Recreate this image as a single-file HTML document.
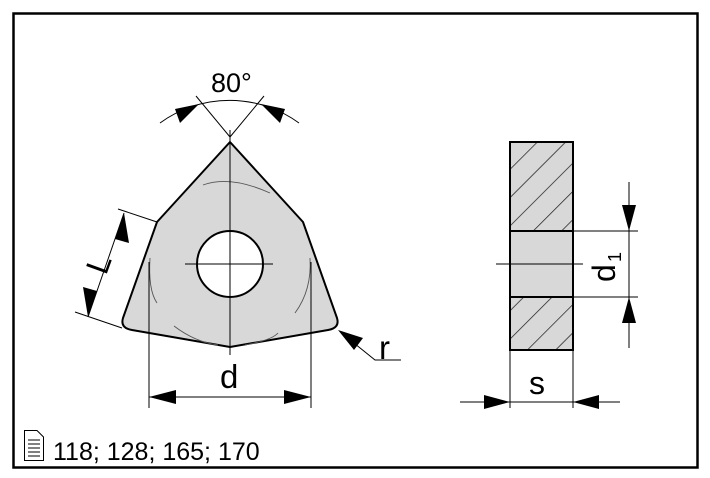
<!DOCTYPE html>
<html><head><style>
html,body{margin:0;padding:0;background:#fff;}
svg{display:block;}
text{font-family:"Liberation Sans",Arial,sans-serif;fill:#000;}
</style></head><body>
<svg width="710" height="478" viewBox="0 0 710 478" xmlns="http://www.w3.org/2000/svg">
<defs>
<pattern id="h" patternUnits="userSpaceOnUse" width="20" height="20" patternTransform="rotate(-45)">
<rect width="20" height="20" fill="#d8d8d8"/><line x1="0" y1="0" x2="20" y2="0" stroke="#222" stroke-width="1.6"/>
</pattern>
</defs>
<rect x="13.5" y="13.5" width="684" height="454" fill="none" stroke="#000" stroke-width="2.5"/>

<path d="M230,142 L157,222 L123,318 Q120,328 132,330 L230,347 L328,330 Q340,328 337,318 L303,222 Z" fill="#d8d8d8" stroke="#000" stroke-width="2" stroke-linejoin="round"/>
<g fill="none" stroke="#555" stroke-width="0.9">
<path d="M203,185 Q230,175 270,193"/>
<path d="M150,258 Q148,290 157,303"/>
<path d="M310,258 Q312,290 295,313"/>
<path d="M174,326 Q195,342 218,345"/>
<path d="M245,345 Q272,340 278,333"/>
</g>
<circle cx="230" cy="264" r="33" fill="#fff" stroke="#000" stroke-width="2"/>
<g stroke="#000" stroke-width="1" fill="none">
<line x1="185" y1="264" x2="273" y2="264"/>
<line x1="230" y1="130" x2="230" y2="355"/>
<line x1="230" y1="137" x2="196" y2="96"/>
<line x1="230" y1="137" x2="264" y2="96"/>
<path d="M160,123 A118,118 0 0 1 299,123"/>
<line x1="157" y1="222" x2="118" y2="209"/>
<line x1="122" y1="328" x2="75" y2="312"/>
<line x1="124" y1="213" x2="88" y2="317"/>
<line x1="149" y1="262" x2="149" y2="408"/>
<line x1="311" y1="262" x2="311" y2="408"/>
<line x1="149" y1="397" x2="311" y2="397"/>
<polyline points="344,335 375,360 401,360"/>
</g>
<g fill="#000">
<polygon points="199,104 175,109 180,123"/>
<polygon points="261,104 285,109 280,123"/>
<polygon points="124,213 115,239 129,243"/>
<polygon points="88,317 97,291 83,287"/>
<polygon points="149,397 176,390 176,404"/>
<polygon points="311,397 284,390 284,404"/>
<polygon points="338,330 363,338 354,350"/>
</g>
<text x="211" y="92" font-size="27">80°</text>
<text x="220" y="388" font-size="33">d</text>
<text x="379" y="359" font-size="33">r</text>
<text x="0" y="0" font-size="32" transform="translate(106,276) rotate(-70)">L</text>

<rect x="510" y="142" width="63" height="89" fill="url(#h)" stroke="#000" stroke-width="2"/>
<rect x="510" y="297" width="63" height="53" fill="url(#h)" stroke="#000" stroke-width="2"/>
<rect x="510" y="231" width="63" height="66" fill="#d8d8d8" stroke="#000" stroke-width="2"/>
<g stroke="#000" stroke-width="1" fill="none">
<line x1="496" y1="264" x2="583" y2="264"/>
<line x1="573" y1="231" x2="638" y2="231"/>
<line x1="573" y1="297" x2="638" y2="297"/>
<line x1="629" y1="182" x2="629" y2="348"/>
<line x1="510" y1="350" x2="510" y2="408"/>
<line x1="573" y1="350" x2="573" y2="408"/>
<line x1="460" y1="402" x2="620" y2="402"/>
</g>
<g fill="#000">
<polygon points="629,231 622,205 636,205"/>
<polygon points="629,297 622,323 636,323"/>
<polygon points="510,402 484,395 484,409"/>
<polygon points="573,402 599,395 599,409"/>
</g>
<text x="529" y="394" font-size="32">s</text>
<text x="0" y="0" font-size="32" transform="translate(615,282) rotate(-90)">d</text>
<text x="0" y="0" font-size="18" transform="translate(621,262) rotate(-90)">1</text>

<g stroke="#000" stroke-width="1" fill="#fff">
<path d="M24.5,430.5 H37 L43.5,437 V460.5 H24.5 Z"/>
<line x1="28" y1="440" x2="40" y2="440"/><line x1="28" y1="444" x2="40" y2="444"/>
<line x1="28" y1="448" x2="40" y2="448"/><line x1="28" y1="452" x2="40" y2="452"/><line x1="28" y1="456" x2="40" y2="456"/>
</g>
<text x="53" y="460" font-size="25">118; 128; 165; 170</text>
</svg>
</body></html>
